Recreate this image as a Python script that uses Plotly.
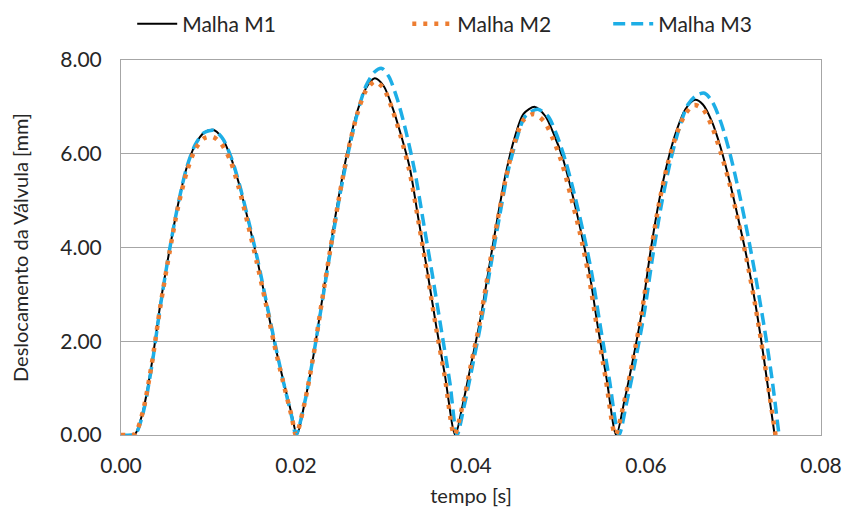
import plotly.graph_objects as go

# ---- data (time in s, displacement in mm) ----
t_m1 = [0.0000, 0.0010, 0.0016, 0.0025, 0.0035, 0.0045, 0.0055, 0.0065, 0.0075, 0.0085,
        0.0095, 0.0105, 0.0115, 0.0125, 0.0135, 0.0145, 0.0155, 0.0165, 0.0175, 0.0185,
        0.0195, 0.0201,
        0.0210, 0.0220, 0.0230, 0.0240, 0.0250, 0.0260, 0.0270, 0.0280, 0.0290, 0.0300,
        0.0310, 0.0320, 0.0330, 0.0340, 0.0350, 0.0360, 0.0370, 0.0382,
        0.0390, 0.0400, 0.0410, 0.0420, 0.0430, 0.0440, 0.0450, 0.0460, 0.0473, 0.0485,
        0.0495, 0.0505, 0.0515, 0.0525, 0.0535, 0.0545, 0.0555, 0.0566,
        0.0575, 0.0585, 0.0595, 0.0605, 0.0615, 0.0625, 0.0635, 0.0645, 0.0656, 0.0665,
        0.0675, 0.0685, 0.0695, 0.0705, 0.0715, 0.0725, 0.0735, 0.0747]
y_m1 = [0.00, 0.00, 0.02, 0.50, 1.50, 2.80, 3.90, 4.90, 5.70, 6.20,
        6.45, 6.51, 6.35, 5.95, 5.35, 4.60, 3.80, 2.90, 2.00, 1.20,
        0.45, 0.00,
        0.70, 1.70, 2.90, 4.10, 5.20, 6.15, 6.90, 7.40, 7.61, 7.45,
        7.00, 6.40, 5.70, 4.60, 3.50, 2.35, 1.30, 0.00,
        0.60, 1.50, 2.40, 3.50, 4.60, 5.60, 6.35, 6.85, 7.00, 6.80,
        6.40, 5.90, 5.20, 4.40, 3.50, 2.30, 1.20, 0.00,
        0.70, 1.60, 2.60, 3.90, 5.00, 5.85, 6.50, 6.95, 7.15, 7.05,
        6.70, 6.15, 5.45, 4.65, 3.80, 2.80, 1.60, 0.00]

t_m2 = [0.0000, 0.0010, 0.0016, 0.0025, 0.0035, 0.0045, 0.0055, 0.0065, 0.0075, 0.0085,
        0.0095, 0.0105, 0.0115, 0.0125, 0.0135, 0.0145, 0.0155, 0.0165, 0.0175, 0.0185,
        0.0195, 0.0200,
        0.0210, 0.0220, 0.0230, 0.0240, 0.0250, 0.0260, 0.0270, 0.0280, 0.0290, 0.0300,
        0.0310, 0.0320, 0.0330, 0.0340, 0.0350, 0.0360, 0.0370, 0.0381,
        0.0390, 0.0400, 0.0410, 0.0420, 0.0430, 0.0440, 0.0450, 0.0460, 0.0472, 0.0484,
        0.0494, 0.0504, 0.0514, 0.0524, 0.0534, 0.0544, 0.0554, 0.0565,
        0.0575, 0.0585, 0.0595, 0.0605, 0.0615, 0.0625, 0.0635, 0.0645, 0.0655, 0.0665,
        0.0675, 0.0685, 0.0695, 0.0705, 0.0715, 0.0725, 0.0735, 0.0748]
y_m2 = [0.00, 0.00, 0.02, 0.50, 1.50, 2.75, 3.85, 4.85, 5.60, 6.10,
        6.33, 6.36, 6.20, 5.85, 5.25, 4.50, 3.70, 2.85, 1.95, 1.15,
        0.40, 0.00,
        0.70, 1.70, 2.90, 4.05, 5.15, 6.10, 6.85, 7.35, 7.54, 7.40,
        6.95, 6.35, 5.60, 4.55, 3.45, 2.30, 1.25, 0.00,
        0.60, 1.50, 2.40, 3.50, 4.55, 5.50, 6.25, 6.72, 6.85, 6.68,
        6.30, 5.80, 5.10, 4.35, 3.45, 2.30, 1.20, 0.00,
        0.70, 1.60, 2.60, 3.85, 4.95, 5.80, 6.42, 6.85, 7.04, 6.95,
        6.60, 6.05, 5.40, 4.60, 3.75, 2.75, 1.60, 0.00]

t_m3 = [0.0000, 0.0012, 0.0017, 0.0025, 0.0035, 0.0045, 0.0055, 0.0065, 0.0075, 0.0085,
        0.0095, 0.0106, 0.0116, 0.0126, 0.0136, 0.0146, 0.0156, 0.0166, 0.0176, 0.0186,
        0.0195, 0.0200,
        0.0210, 0.0220, 0.0230, 0.0240, 0.0250, 0.0260, 0.0270, 0.0280, 0.0290, 0.0298,
        0.0306, 0.0316, 0.0326, 0.0336, 0.0346, 0.0356, 0.0366, 0.0376, 0.0384,
        0.0392, 0.0402, 0.0412, 0.0422, 0.0432, 0.0442, 0.0452, 0.0462, 0.0476, 0.0488,
        0.0498, 0.0508, 0.0518, 0.0528, 0.0538, 0.0548, 0.0558, 0.0569,
        0.0578, 0.0588, 0.0598, 0.0608, 0.0618, 0.0628, 0.0638, 0.0648, 0.0658, 0.0667,
        0.0676, 0.0686, 0.0696, 0.0706, 0.0716, 0.0726, 0.0736, 0.0744, 0.0752]
y_m3 = [0.00, 0.00, 0.03, 0.45, 1.45, 2.75, 3.90, 4.90, 5.70, 6.20,
        6.45, 6.50, 6.33, 5.92, 5.30, 4.55, 3.75, 2.85, 1.95, 1.10,
        0.40, 0.00,
        0.70, 1.70, 2.85, 4.00, 5.10, 6.05, 6.85, 7.45, 7.75, 7.82,
        7.65, 7.15, 6.45, 5.60, 4.50, 3.40, 2.25, 1.10, 0.00,
        0.60, 1.50, 2.45, 3.55, 4.60, 5.60, 6.30, 6.80, 6.95, 6.80,
        6.40, 5.85, 5.15, 4.35, 3.45, 2.30, 1.20, 0.00,
        0.70, 1.60, 2.60, 3.85, 4.95, 5.85, 6.55, 7.05, 7.25, 7.29,
        7.10, 6.65, 6.00, 5.20, 4.30, 3.30, 2.20, 1.20, 0.00]

names = ["Malha M1", "Malha M2", "Malha M3"]
x_ticks = [0.00, 0.02, 0.04, 0.06, 0.08]
y_ticks = [0.00, 2.00, 4.00, 6.00, 8.00]

FONT = "Lato, 'Open Sans', sans-serif"
TXT = "#262626"
SM = 0.8

fig = go.Figure()
fig.add_trace(go.Scatter(x=t_m1, y=y_m1, name=names[0], mode="lines", showlegend=True,
                         line=dict(color="#000000", width=2, shape="spline", smoothing=SM),
                         legend="legend"))
fig.add_trace(go.Scatter(x=t_m3, y=y_m3, name=names[2], mode="lines", showlegend=True,
                         line=dict(color="#1DAEE6", width=3.5, dash="12px,6px", shape="spline", smoothing=SM),
                         legend="legend3"))
fig.add_trace(go.Scatter(x=t_m2, y=y_m2, name=names[1], mode="lines", showlegend=True,
                         line=dict(color="#ED7D31", width=4.5, dash="4px,7px", shape="spline", smoothing=SM),
                         legend="legend2"))

leg = dict(orientation="h", yref="container", yanchor="middle", y=1 - 24 / 517,
           xanchor="left", font=dict(family=FONT, size=21, color=TXT),
           bgcolor="rgba(0,0,0,0)", itemwidth=40, tracegroupgap=0)

fig.update_layout(
    width=850, height=517,
    showlegend=True,
    margin=dict(l=121, r=29, t=60, b=82, autoexpand=False),
    paper_bgcolor="white", plot_bgcolor="white",
    font=dict(family=FONT, size=20, color=TXT),
    legend=dict(leg, x=0.016, visible=True),
    legend2=dict(leg, x=0.409, visible=True),
    legend3=dict(leg, x=0.696, visible=True),
    xaxis=dict(range=[0, 0.08], tickvals=x_ticks, tickformat=".2f",
               showgrid=False, zeroline=False,
               showline=True, linecolor="#A6A6A6", linewidth=1, mirror=True,
               ticks="", ticklen=0, ticklabelstandoff=12,
               tickfont=dict(family=FONT, size=21, color=TXT),
               title=dict(text="tempo [s]", font=dict(family=FONT, size=20, color=TXT), standoff=12)),
    yaxis=dict(range=[0, 8], tickvals=y_ticks, tickformat=".2f",
               showgrid=True, gridcolor="#A6A6A6", gridwidth=1, zeroline=False,
               showline=True, linecolor="#A6A6A6", linewidth=1, mirror=True,
               ticks="", ticklen=0, ticklabelstandoff=14,
               tickfont=dict(family=FONT, size=21, color=TXT),
               title=dict(text="Deslocamento da Válvula [mm]", font=dict(family=FONT, size=20, color=TXT), standoff=26)),
)

fig.write_html("out.html")
